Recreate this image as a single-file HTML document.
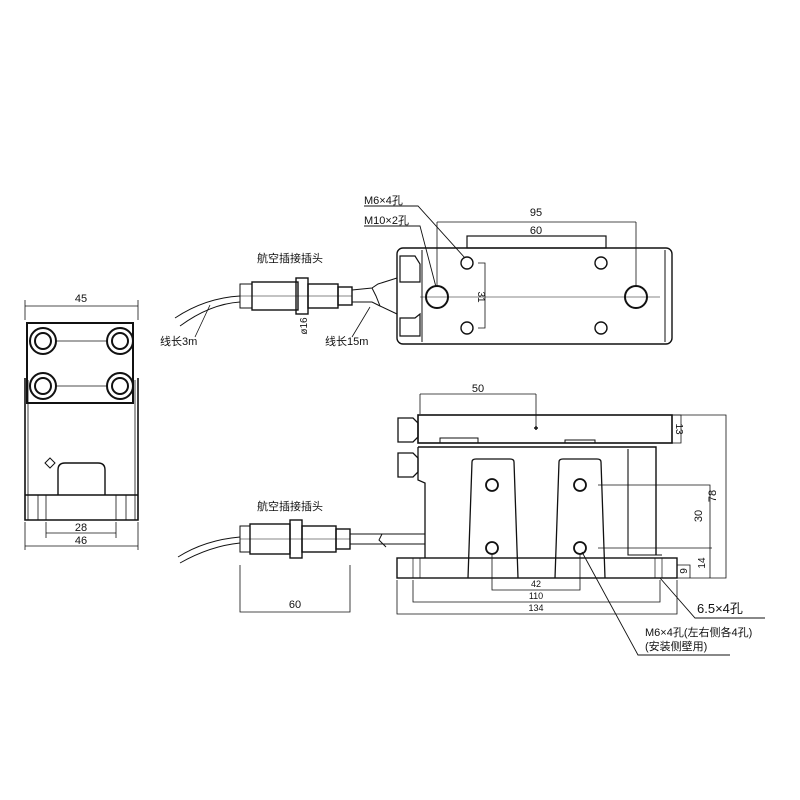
<!DOCTYPE html>
<html><head><meta charset="utf-8"><style>body{margin:0;background:#fff}svg{display:block}</style></head><body>
<svg width="800" height="800" viewBox="0 0 800 800" xmlns="http://www.w3.org/2000/svg" font-family="Liberation Sans, Noto Sans CJK SC, sans-serif" fill="none" stroke="#111" stroke-width="1.4">
<!-- LEFT VIEW -->
<g>
<line x1="25" y1="306" x2="138" y2="306" stroke-width="0.8"/>
<line x1="25" y1="300" x2="25" y2="320" stroke-width="0.8"/>
<line x1="138" y1="300" x2="138" y2="320" stroke-width="0.8"/>
<text x="81" y="302" font-size="11" fill="#111" stroke="none" text-anchor="middle">45</text>
<rect x="27" y="323" width="106" height="80" stroke-width="2"/>
<path d="M25 378 V520 H138 V378" stroke-width="1.6"/>
<line x1="28" y1="520" x2="28" y2="380" stroke-width="0.8"/>
<line x1="135" y1="520" x2="135" y2="380" stroke-width="0.8"/>
<line x1="25" y1="495" x2="138" y2="495"/>
<line x1="38" y1="495" x2="38" y2="520" stroke-width="0.8"/>
<line x1="46" y1="495" x2="46" y2="520" stroke-width="0.8"/>
<line x1="116" y1="495" x2="116" y2="520" stroke-width="0.8"/>
<line x1="126" y1="495" x2="126" y2="520" stroke-width="0.8"/>
<path d="M58 495 V470 Q58 463 65 463 H98 Q105 463 105 470 V495"/>
<path d="M50 458 L55 463 L50 468 L45 463 Z" stroke-width="1"/>
<g stroke-width="2">
<circle cx="43" cy="341" r="13"/><circle cx="43" cy="341" r="8"/>
<circle cx="120" cy="341" r="13"/><circle cx="120" cy="341" r="8"/>
<circle cx="43" cy="386" r="13"/><circle cx="43" cy="386" r="8"/>
<circle cx="120" cy="386" r="13"/><circle cx="120" cy="386" r="8"/>
</g>
<line x1="56" y1="341" x2="107" y2="341" stroke-width="0.7"/>
<line x1="56" y1="386" x2="107" y2="386" stroke-width="0.7"/>
<line x1="46" y1="522" x2="46" y2="538" stroke-width="0.8"/>
<line x1="116" y1="522" x2="116" y2="538" stroke-width="0.8"/>
<line x1="46" y1="533" x2="116" y2="533" stroke-width="0.8"/>
<text x="81" y="531" font-size="11" fill="#111" stroke="none" text-anchor="middle">28</text>
<line x1="25" y1="522" x2="25" y2="550" stroke-width="0.8"/>
<line x1="138" y1="522" x2="138" y2="550" stroke-width="0.8"/>
<line x1="25" y1="546" x2="138" y2="546" stroke-width="0.8"/>
<text x="81" y="544" font-size="11" fill="#111" stroke="none" text-anchor="middle">46</text>
</g>
<!-- TOP SENSOR -->
<g>
<text x="290" y="262" font-size="11" fill="#111" stroke="none" text-anchor="middle">航空插接插头</text>
<path d="M175 318 Q205 298 240 296" stroke-width="0.9"/>
<path d="M180 326 Q210 304 240 302" stroke-width="0.9"/>
<rect x="240" y="284" width="12" height="24" stroke-width="1"/>
<rect x="252" y="282" width="46" height="28"/>
<rect x="296" y="278" width="12" height="36"/>
<rect x="308" y="284" width="30" height="24"/>
<rect x="338" y="287" width="14" height="18"/>
<line x1="240" y1="296" x2="352" y2="296" stroke-width="0.6"/>
<path d="M352 290 L372 288 L378 284 L397 278" stroke-width="1"/>
<path d="M352 302 L372 302 L380 306 L397 314" stroke-width="1"/>
<path d="M372 288 L376 296 L380 306" stroke-width="1"/>
<path d="M195 337 L210 305" stroke-width="0.8"/>
<text x="160" y="345" font-size="11" fill="#111" stroke="none">线长3m</text>
<path d="M352 337 L370 307" stroke-width="0.8"/>
<text x="325" y="345" font-size="11" fill="#111" stroke="none">线长15m</text>
<text x="308" y="333" font-size="10" fill="#111" stroke="none" text-anchor="middle" transform="rotate(-90 304 330)">ø16</text>
</g>
<!-- TOP VIEW -->
<g>
<rect x="397" y="248" width="275" height="96" rx="6"/>
<line x1="422" y1="250" x2="422" y2="342" stroke-width="1"/>
<line x1="665" y1="250" x2="665" y2="342" stroke-width="1"/>
<path d="M400 256 h15 l5 8 v18 h-20 z" stroke-width="1.2"/>
<path d="M400 318 h15 l5 -4 v22 h-20 z" stroke-width="1.2"/>
<rect x="467" y="236" width="139" height="12" stroke-width="1.2"/>
<circle cx="467" cy="263" r="6"/><circle cx="601" cy="263" r="6"/>
<circle cx="467" cy="328" r="6"/><circle cx="601" cy="328" r="6"/>
<circle cx="437" cy="297" r="11" stroke-width="2"/><circle cx="636" cy="297" r="11" stroke-width="2"/>
<line x1="420" y1="297" x2="660" y2="297" stroke-width="0.6"/>
<line x1="437" y1="222" x2="636" y2="222" stroke-width="0.8"/>
<line x1="437" y1="222" x2="437" y2="286" stroke-width="0.8"/>
<line x1="636" y1="222" x2="636" y2="286" stroke-width="0.8"/>
<text x="536" y="216" font-size="11" fill="#111" stroke="none" text-anchor="middle">95</text>
<text x="536" y="234" font-size="11" fill="#111" stroke="none" text-anchor="middle">60</text>
<path d="M478 263 H485 V328 H478" stroke-width="0.8"/>
<text x="0" y="0" font-size="10" fill="#111" stroke="none" text-anchor="middle" transform="translate(478 297) rotate(90)">31</text>
<text x="364" y="204" font-size="11" fill="#111" stroke="none">M6×4孔</text>
<path d="M364 206 H418 L465 258" stroke-width="0.9"/>
<text x="364" y="224" font-size="11" fill="#111" stroke="none">M10×2孔</text>
<path d="M364 226 H420 L436 287" stroke-width="0.9"/>
</g>
<!-- FRONT VIEW -->
<g>
<line x1="420" y1="394" x2="536" y2="394" stroke-width="0.8"/>
<line x1="420" y1="394" x2="420" y2="414" stroke-width="0.8"/>
<line x1="536" y1="394" x2="536" y2="428" stroke-width="0.8"/>
<text x="478" y="392" font-size="11" fill="#111" stroke="none" text-anchor="middle">50</text>
<path d="M534 428 h4 M536 426 v4" stroke-width="1.5"/>
<rect x="418" y="415" width="254" height="28" stroke-width="1.6"/>
<path d="M398 418 h15 l5 5 v14 l-5 5 h-15 z" stroke-width="1.3"/>
<path d="M398 453 h15 l5 5 v14 l-5 5 h-15 z" stroke-width="1.3"/>
<path d="M440 443 v-5 h38 v5 M565 443 v-3 h30 v3" stroke-width="1"/>
<path d="M418 447 H656 V555" stroke-width="1.4"/>
<path d="M418 447 V480 L425 483 V558" stroke-width="1.3"/>
<path d="M628 449 V555 H662" stroke-width="1.1"/>
<rect x="397" y="558" width="280" height="20" stroke-width="1.4"/>
<line x1="413" y1="558" x2="413" y2="578" stroke-width="0.7"/>
<line x1="420" y1="558" x2="420" y2="578" stroke-width="0.7"/>
<line x1="655" y1="558" x2="655" y2="578" stroke-width="0.7"/>
<line x1="662" y1="558" x2="662" y2="578" stroke-width="0.7"/>
<path d="M468 578 L472 462 Q472 459 476 459 H510 Q514 459 514 462 L518 578" stroke-width="1.3"/>
<path d="M555 578 L559 462 Q559 459 563 459 H597 Q601 459 601 462 L605 578" stroke-width="1.3"/>
<g stroke-width="1.8">
<circle cx="492" cy="485" r="6"/><circle cx="580" cy="485" r="6"/>
<circle cx="492" cy="548" r="6"/><circle cx="580" cy="548" r="6"/>
</g>
<!-- cable bottom -->
<text x="290" y="510" font-size="11" fill="#111" stroke="none" text-anchor="middle">航空插接插头</text>
<path d="M178 557 Q205 540 240 537" stroke-width="0.9"/>
<path d="M180 563 Q210 546 240 543" stroke-width="0.9"/>
<rect x="240" y="526" width="10" height="26" stroke-width="1"/>
<rect x="250" y="524" width="40" height="30"/>
<rect x="290" y="520" width="12" height="38"/>
<rect x="302" y="526" width="34" height="26"/>
<rect x="336" y="529" width="14" height="20"/>
<line x1="240" y1="539" x2="350" y2="539" stroke-width="0.6"/>
<line x1="350" y1="534" x2="425" y2="534" stroke-width="1"/>
<line x1="350" y1="544" x2="425" y2="544" stroke-width="1"/>
<path d="M382 534 L379 540 L386 547" stroke-width="1"/>
<path d="M240 565 V612 H350 V565" stroke-width="0.8"/>
<text x="295" y="608" font-size="11" fill="#111" stroke="none" text-anchor="middle">60</text>
<!-- dims -->
<path d="M672 415 H681 V443 H672" stroke-width="0.8"/>
<text x="0" y="0" font-size="10" fill="#111" stroke="none" text-anchor="middle" transform="translate(676 429) rotate(90)">13</text>
<path d="M672 415 H726 V578 H677" stroke-width="0.8"/>
<text x="0" y="0" font-size="11" fill="#111" stroke="none" text-anchor="middle" transform="translate(716 496) rotate(-90)">78</text>
<path d="M598 485 H710 V578" stroke-width="0.8"/>
<path d="M598 548 H712" stroke-width="0.8"/>
<text x="0" y="0" font-size="11" fill="#111" stroke="none" text-anchor="middle" transform="translate(702 516) rotate(-90)">30</text>
<text x="0" y="0" font-size="10" fill="#111" stroke="none" text-anchor="middle" transform="translate(705 563) rotate(-90)">14</text>
<path d="M677 565 H690 V578" stroke-width="0.8"/>
<text x="0" y="0" font-size="10" fill="#111" stroke="none" text-anchor="middle" transform="translate(687 571) rotate(-90)">9</text>
<path d="M492 554 V590 H580 V554" stroke-width="0.8"/>
<text x="536" y="587" font-size="9" fill="#111" stroke="none" text-anchor="middle">42</text>
<path d="M413 580 V602 H660 V580" stroke-width="0.8"/>
<text x="536" y="599" font-size="9" fill="#111" stroke="none" text-anchor="middle">110</text>
<path d="M397 580 V614 H677 V580" stroke-width="0.8"/>
<text x="536" y="611" font-size="9" fill="#111" stroke="none" text-anchor="middle">134</text>
<path d="M660 578 L695 618 H765" stroke-width="0.9"/>
<text x="697" y="613" font-size="13" fill="#111" stroke="none">6.5×4孔</text>
<path d="M582 552 L638 655 H730" stroke-width="0.9"/>
<text x="645" y="636" font-size="11" fill="#111" stroke="none">M6×4孔(左右侧各4孔)</text>
<text x="645" y="650" font-size="11" fill="#111" stroke="none">(安装侧壁用)</text>
</g>
</svg>
</body></html>
